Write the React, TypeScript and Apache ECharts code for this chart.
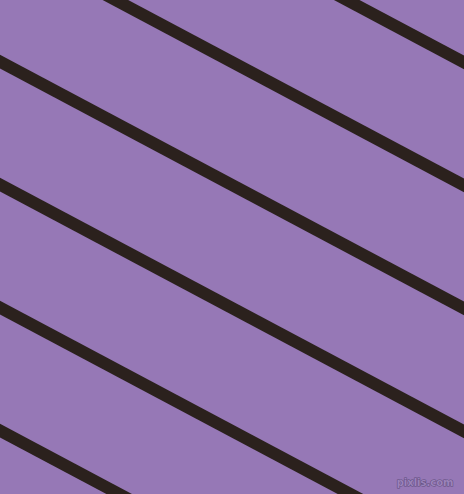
import React, { useEffect, useRef } from 'react';
import * as echarts from 'echarts';

// stripe centre lines, read at x = -20 and x = 484 (image px, y grows downwards)
const stripeX = [-20, 484];
const stripeStartY = [-195, -72, 51, 174, 297, 420];
const stripeEndY = [73, 196, 319, 442, 565, 688];

const BG = '#9678b6';
const STRIPE = '#2b211d';

const App: React.FC = () => {
  const chartRef = useRef<HTMLDivElement>(null);

  useEffect(() => {
    document.body.style.margin = '0';
    if (!chartRef.current) return;
    const chart = echarts.init(chartRef.current, undefined, { renderer: 'svg' });

    const series = stripeStartY.map((y0, i) => ({
      type: 'line' as const,
      data: [
        [stripeX[0], y0],
        [stripeX[1], stripeEndY[i]],
      ],
      symbol: 'none',
      clip: true,
      silent: true,
      lineStyle: { color: STRIPE, width: 12, cap: 'butt' as const },
    }));

    chart.setOption({
      animation: false,
      backgroundColor: BG,
      grid: { left: 0, right: 0, top: 0, bottom: 0 },
      xAxis: { type: 'value', min: 0, max: 464, show: false },
      yAxis: { type: 'value', min: 0, max: 494, inverse: true, show: false },
      series,
      graphic: [
        {
          type: 'text',
          right: 10,
          bottom: 6,
          style: {
            text: 'pixlis.com',
            font: 'bold 10px "DejaVu Sans", sans-serif',
            fill: '#9a83ba',
            stroke: '#5f4c7c',
            lineWidth: 1,
          },
        },
      ],
    });

    return () => chart.dispose();
  }, []);

  return <div ref={chartRef} style={{ width: 464, height: 494 }} />;
};

export default App;
